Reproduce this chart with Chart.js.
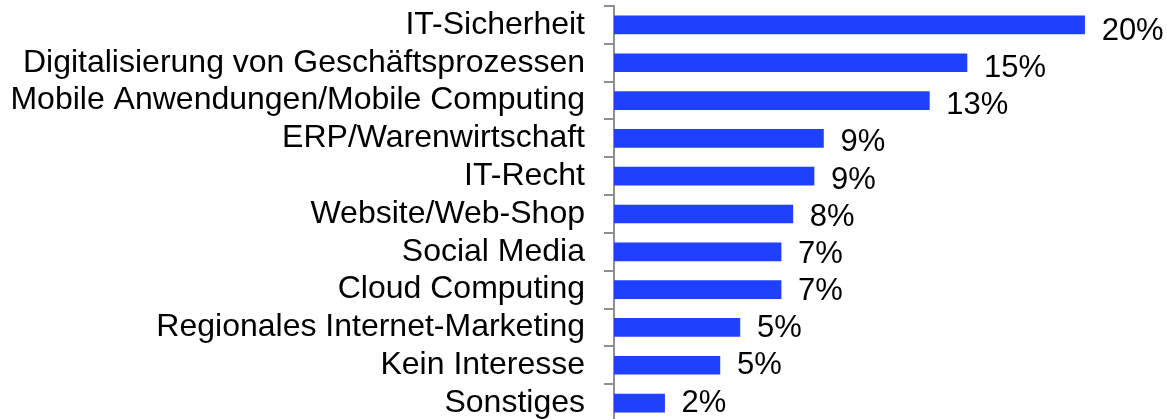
<!DOCTYPE html>
<html>
<head>
<meta charset="utf-8">
<script src="https://cdn.jsdelivr.net/npm/chart.js@4/dist/chart.umd.min.js"></script>
<style>
  html, body { margin: 0; padding: 0; background: #fff; overflow: hidden; }
  #wrap { position: relative; width: 1167px; height: 422px; }
</style>
</head>
<body>
<div id="wrap"><canvas id="themenChart"></canvas></div>
<script>
const themen = [
    "IT-Sicherheit",
    "Digitalisierung von Geschäftsprozessen",
    "Mobile Anwendungen/Mobile Computing",
    "ERP/Warenwirtschaft",
    "IT-Recht",
    "Website/Web-Shop",
    "Social Media",
    "Cloud Computing",
    "Regionales Internet-Marketing",
    "Kein Interesse",
    "Sonstiges"
];

// Anteile in Prozent (Beschriftung gerundet)
const anteile = [20, 15, 13.4, 8.9, 8.5, 7.6, 7.1, 7.1, 5.35, 4.5, 2.15];

const balkenFarbe = "rgb(32, 64, 255)";
const achsenFarbe = "#8f8f8f";
const schrift = "'Liberation Sans', Arial, sans-serif";

// eigene Wertbeschriftung rechts neben den Balken
const wertLabels = {
    id: "wertLabels",
    afterDatasetsDraw(chart) {
        const ctx = chart.ctx;
        const meta = chart.getDatasetMeta(0);
        ctx.save();
        ctx.font = "31px " + schrift;
        ctx.fillStyle = "#000";
        ctx.textAlign = "left";
        ctx.textBaseline = "middle";
        meta.data.forEach((bar, i) => {
            // im Original sitzen die oberen Werte etwas tiefer
            ctx.fillText(Math.round(anteile[i]) + "%", bar.x + 17, bar.y + 6.5 - 0.65 * i);
        });
        ctx.restore();
    }
};

const ctx = document.getElementById("themenChart").getContext("2d");
new Chart(ctx, {
    type: "bar",
    data: {
        labels: themen,
        datasets: [{
            data: anteile,
            backgroundColor: balkenFarbe,
            borderWidth: 0,
            barThickness: 18
        }]
    },
    options: {
        indexAxis: "y",
        responsive: true,
        maintainAspectRatio: false,
        animation: false,
        layout: { padding: { top: 6, right: 0, bottom: 0, left: 0 } },
        plugins: {
            legend: { display: false },
            tooltip: { enabled: false }
        },
        scales: {
            x: {
                display: false,
                min: 0,
                max: 23.5
            },
            y: {
                afterFit: function (scale) {
                    scale.width = 614;
                    scale.paddingTop = 0;
                    scale.paddingBottom = 0;
                },
                grid: {
                    display: true,
                    drawOnChartArea: false,
                    drawTicks: true,
                    tickLength: 10,
                    color: achsenFarbe,
                    lineWidth: 2,
                    offset: true
                },
                border: { display: true, color: achsenFarbe, width: 2 },
                ticks: {
                    color: "#000",
                    padding: 19,
                    autoSkip: false,
                    font: { family: schrift, size: 32 }
                }
            }
        }
    },
    plugins: [wertLabels]
});
</script>
</body>
</html>
